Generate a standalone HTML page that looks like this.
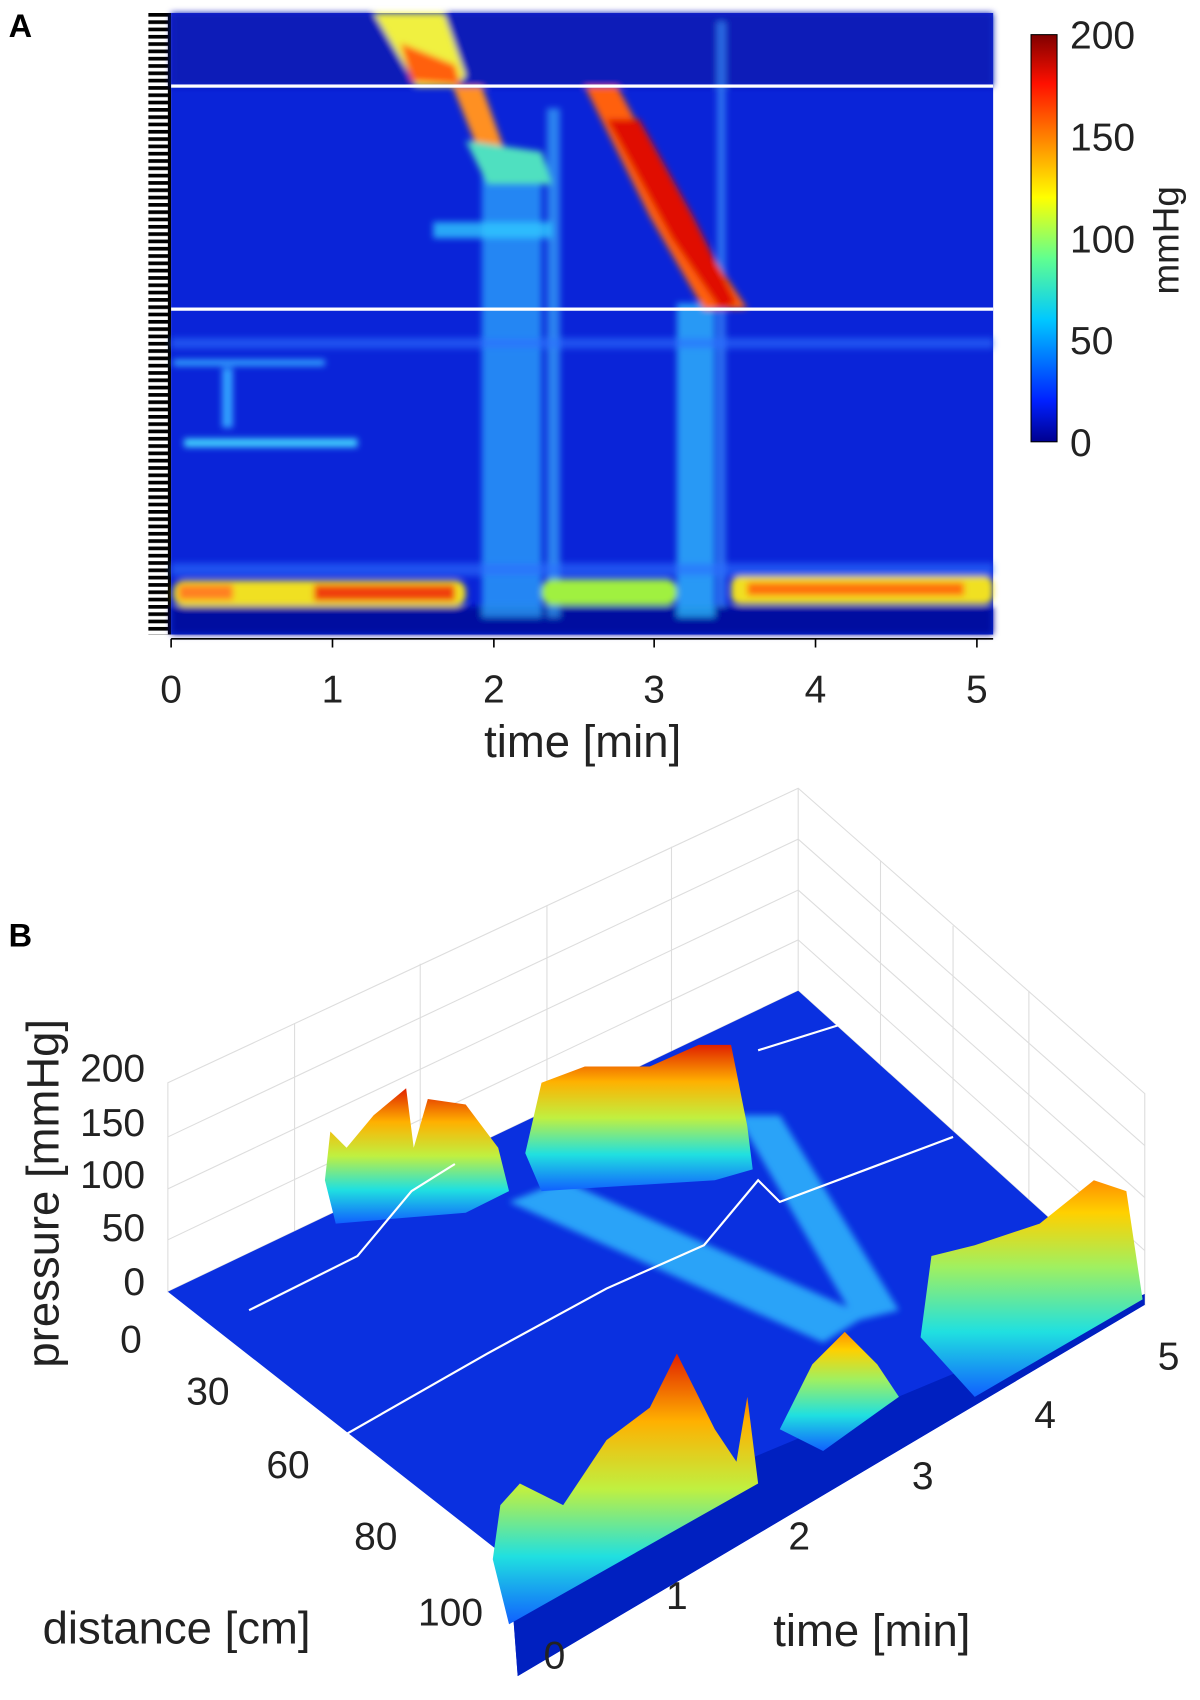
<!DOCTYPE html>
<html><head><meta charset="utf-8"><style>html,body{margin:0;padding:0;background:#fff}svg{display:block}</style></head>
<body>
<svg width="1200" height="1700" viewBox="0 0 1108 1570" preserveAspectRatio="none" font-family="Liberation Sans, sans-serif">
<defs>
<linearGradient id="cb" x1="0" y1="1" x2="0" y2="0">
<stop offset="0" stop-color="#00008f"/><stop offset="0.1" stop-color="#0020ff"/><stop offset="0.3" stop-color="#00c8ff"/><stop offset="0.45" stop-color="#60ff90"/><stop offset="0.6" stop-color="#ffff00"/><stop offset="0.75" stop-color="#ff8000"/><stop offset="0.88" stop-color="#ff1000"/><stop offset="1" stop-color="#800000"/>
</linearGradient>
<linearGradient id="pk" x1="0" y1="1" x2="0" y2="0">
<stop offset="0" stop-color="#1060ff"/><stop offset="0.25" stop-color="#20e0e0"/><stop offset="0.5" stop-color="#c0f040"/><stop offset="0.75" stop-color="#ffb000"/><stop offset="1" stop-color="#e02000"/>
</linearGradient>
<linearGradient id="pk2" x1="0" y1="1" x2="0" y2="0">
<stop offset="0" stop-color="#1060ff"/><stop offset="0.3" stop-color="#20e0e0"/><stop offset="0.6" stop-color="#a0f060"/><stop offset="0.85" stop-color="#ffd000"/><stop offset="1" stop-color="#ff9000"/>
</linearGradient>
<pattern id="tk" width="21" height="6.75" patternUnits="userSpaceOnUse" y="12">
<rect width="21" height="3.4" fill="#000"/>
</pattern>
<filter id="bl"><feGaussianBlur stdDeviation="3"/></filter>
</defs>

<!-- Panel A -->
<text x="8" y="34" font-size="30" font-weight="bold">A</text>
<rect x="137" y="12" width="20" height="574" fill="url(#tk)"/>
<rect x="155" y="12" width="3" height="574" fill="#000"/>
<rect x="158" y="12" width="759" height="574" fill="#0a24d8"/>
<g filter="url(#bl)">
<rect x="158" y="12" width="759" height="68" fill="#0a1ab8"/>
<rect x="158" y="560" width="759" height="26" fill="#0010a0"/>
<rect x="445" y="150" width="55" height="420" fill="#30b0ff" opacity="0.7"/>
<rect x="625" y="280" width="35" height="290" fill="#30c0ff" opacity="0.75"/>
<rect x="505" y="100" width="12" height="470" fill="#40c0ff" opacity="0.6"/>
<rect x="662" y="20" width="8" height="540" fill="#40a0ff" opacity="0.6"/>
<rect x="158" y="312" width="759" height="10" fill="#2c70ff" opacity="0.6"/>
<rect x="158" y="520" width="759" height="12" fill="#2c70ff" opacity="0.6"/>
<rect x="170" y="405" width="160" height="8" fill="#40d0ff"/>
<rect x="160" y="332" width="140" height="6" fill="#30a0ff"/>
<rect x="205" y="340" width="10" height="55" fill="#30a0ff"/>
<rect x="400" y="205" width="110" height="15" fill="#30c8ff" opacity="0.8"/>
<rect x="160" y="536" width="270" height="24" rx="10" fill="#f0e020"/>
<rect x="165" y="540" width="50" height="14" fill="#ff8020"/>
<rect x="290" y="540" width="130" height="15" fill="#f04010"/>
<rect x="500" y="535" width="125" height="24" rx="10" fill="#a0f040"/>
<rect x="675" y="532" width="242" height="26" rx="8" fill="#f0e020"/>
<rect x="690" y="538" width="200" height="12" fill="#ff7010"/>
<polygon points="345,12 410,12 430,70 420,80 385,80" fill="#f0f040"/>
<polygon points="370,40 420,60 425,78 380,75" fill="#ff6010"/>
<polygon points="418,80 445,80 470,150 450,160" fill="#ff9020"/>
<polygon points="430,130 500,140 510,170 450,170" fill="#50e0c0"/>
<polygon points="540,80 570,80 640,210 690,285 650,286 600,200" fill="#ff6010"/>
<polygon points="560,110 590,110 640,200 680,280 665,286 620,220" fill="#e01000"/>
</g>
<rect x="158" y="78" width="759" height="3" fill="#fff"/>
<rect x="158" y="284" width="759" height="3" fill="#fff"/>
<line x1="158" y1="590" x2="917" y2="590" stroke="#000" stroke-width="1.5"/>
<g stroke="#000" stroke-width="1.5">
<line x1="158" y1="590" x2="158" y2="598"/><line x1="307" y1="590" x2="307" y2="598"/><line x1="456" y1="590" x2="456" y2="598"/><line x1="604" y1="590" x2="604" y2="598"/><line x1="753" y1="590" x2="753" y2="598"/><line x1="902" y1="590" x2="902" y2="598"/>
</g>
<g font-size="36" text-anchor="middle" fill="#222">
<text x="158" y="649">0</text><text x="307" y="649">1</text><text x="456" y="649">2</text><text x="604" y="649">3</text><text x="753" y="649">4</text><text x="902" y="649">5</text>
<text x="538" y="699" font-size="42">time [min]</text>
</g>
<rect x="952" y="32" width="24" height="376" fill="url(#cb)" stroke="#000"/>
<g font-size="36" fill="#222">
<text x="988" y="45">200</text><text x="988" y="139">150</text><text x="988" y="233">100</text><text x="988" y="327">50</text><text x="988" y="421">0</text>
</g>
<text transform="translate(1088,222) rotate(-90)" font-size="34" text-anchor="middle" fill="#222">mmHg</text>

<!-- Panel B -->
<text x="8" y="874" font-size="30" font-weight="bold">B</text>
<g stroke="#ddd" stroke-width="1" fill="none">
<polygon points="155,1000 737,728 1057,1010 1057,1205 737,915 155,1193"/>
<line x1="737" y1="728" x2="737" y2="915"/>
<line x1="155" y1="1050" x2="737" y2="775"/><line x1="155" y1="1098" x2="737" y2="822"/><line x1="155" y1="1145" x2="737" y2="868"/>
<line x1="737" y1="775" x2="1057" y2="1058"/><line x1="737" y1="822" x2="1057" y2="1106"/><line x1="737" y1="868" x2="1057" y2="1155"/>
<line x1="272" y1="945" x2="272" y2="1138"/><line x1="388" y1="890" x2="388" y2="1083"/><line x1="505" y1="836" x2="505" y2="1028"/><line x1="620" y1="782" x2="620" y2="975"/>
<line x1="813" y1="795" x2="813" y2="985"/><line x1="880" y1="855" x2="880" y2="1045"/><line x1="950" y1="915" x2="950" y2="1108"/>
</g>
<polygon points="155,1193 737,915 1057,1205 478,1548 470,1440" fill="#0a30e0"/>
<polygon points="470,1440 478,1548 1057,1205 1057,1195" fill="#0020c0"/>
<g filter="url(#bl)" opacity="0.8">
<polygon points="470,1110 520,1090 800,1215 760,1240" fill="#30c0ff"/>
<polygon points="680,1030 720,1030 830,1210 790,1220" fill="#30c0ff"/>
</g>
<polygon points="300,1090 305,1045 320,1060 345,1030 375,1005 382,1060 395,1015 430,1020 460,1060 470,1100 430,1120 310,1130" fill="url(#pk)"/>
<polygon points="485,1065 500,1000 540,985 600,985 645,965 675,965 690,1040 695,1080 660,1090 500,1100" fill="url(#pk)"/>
<polygon points="455,1440 462,1390 480,1370 520,1390 560,1330 600,1300 625,1250 660,1320 680,1350 690,1290 700,1370 470,1500" fill="url(#pk)"/>
<polygon points="720,1320 750,1260 780,1230 810,1260 830,1290 760,1340" fill="url(#pk2)"/>
<polygon points="850,1235 860,1160 900,1150 960,1130 1010,1090 1040,1100 1055,1200 900,1290" fill="url(#pk2)"/>
<polyline points="230,1210 330,1160 380,1100 420,1075" fill="none" stroke="#fff" stroke-width="2"/>
<polyline points="310,1330 450,1250 560,1190 650,1150 700,1090 720,1110 800,1080 880,1050" fill="none" stroke="#fff" stroke-width="2"/>
<polyline points="700,970 780,945" fill="none" stroke="#fff" stroke-width="2"/>
<g font-size="36" fill="#222" text-anchor="end">
<text x="134" y="999">200</text><text x="134" y="1049">150</text><text x="134" y="1097">100</text><text x="134" y="1146">50</text><text x="134" y="1196">0</text>
<text x="131" y="1249">0</text><text x="212" y="1297">30</text><text x="286" y="1365">60</text><text x="367" y="1431">80</text><text x="446" y="1501">100</text>
</g>
<g font-size="36" fill="#222" text-anchor="middle">
<text x="512" y="1541">0</text><text x="625" y="1486">1</text><text x="738" y="1431">2</text><text x="852" y="1375">3</text><text x="965" y="1319">4</text><text x="1079" y="1265">5</text>
<text x="805" y="1520" font-size="42">time [min]</text>
<text x="163" y="1518" font-size="42">distance [cm]</text>
</g>
<text transform="translate(54,1102) rotate(-90)" font-size="42" text-anchor="middle" fill="#222">pressure [mmHg]</text>
</svg>
</body></html>
